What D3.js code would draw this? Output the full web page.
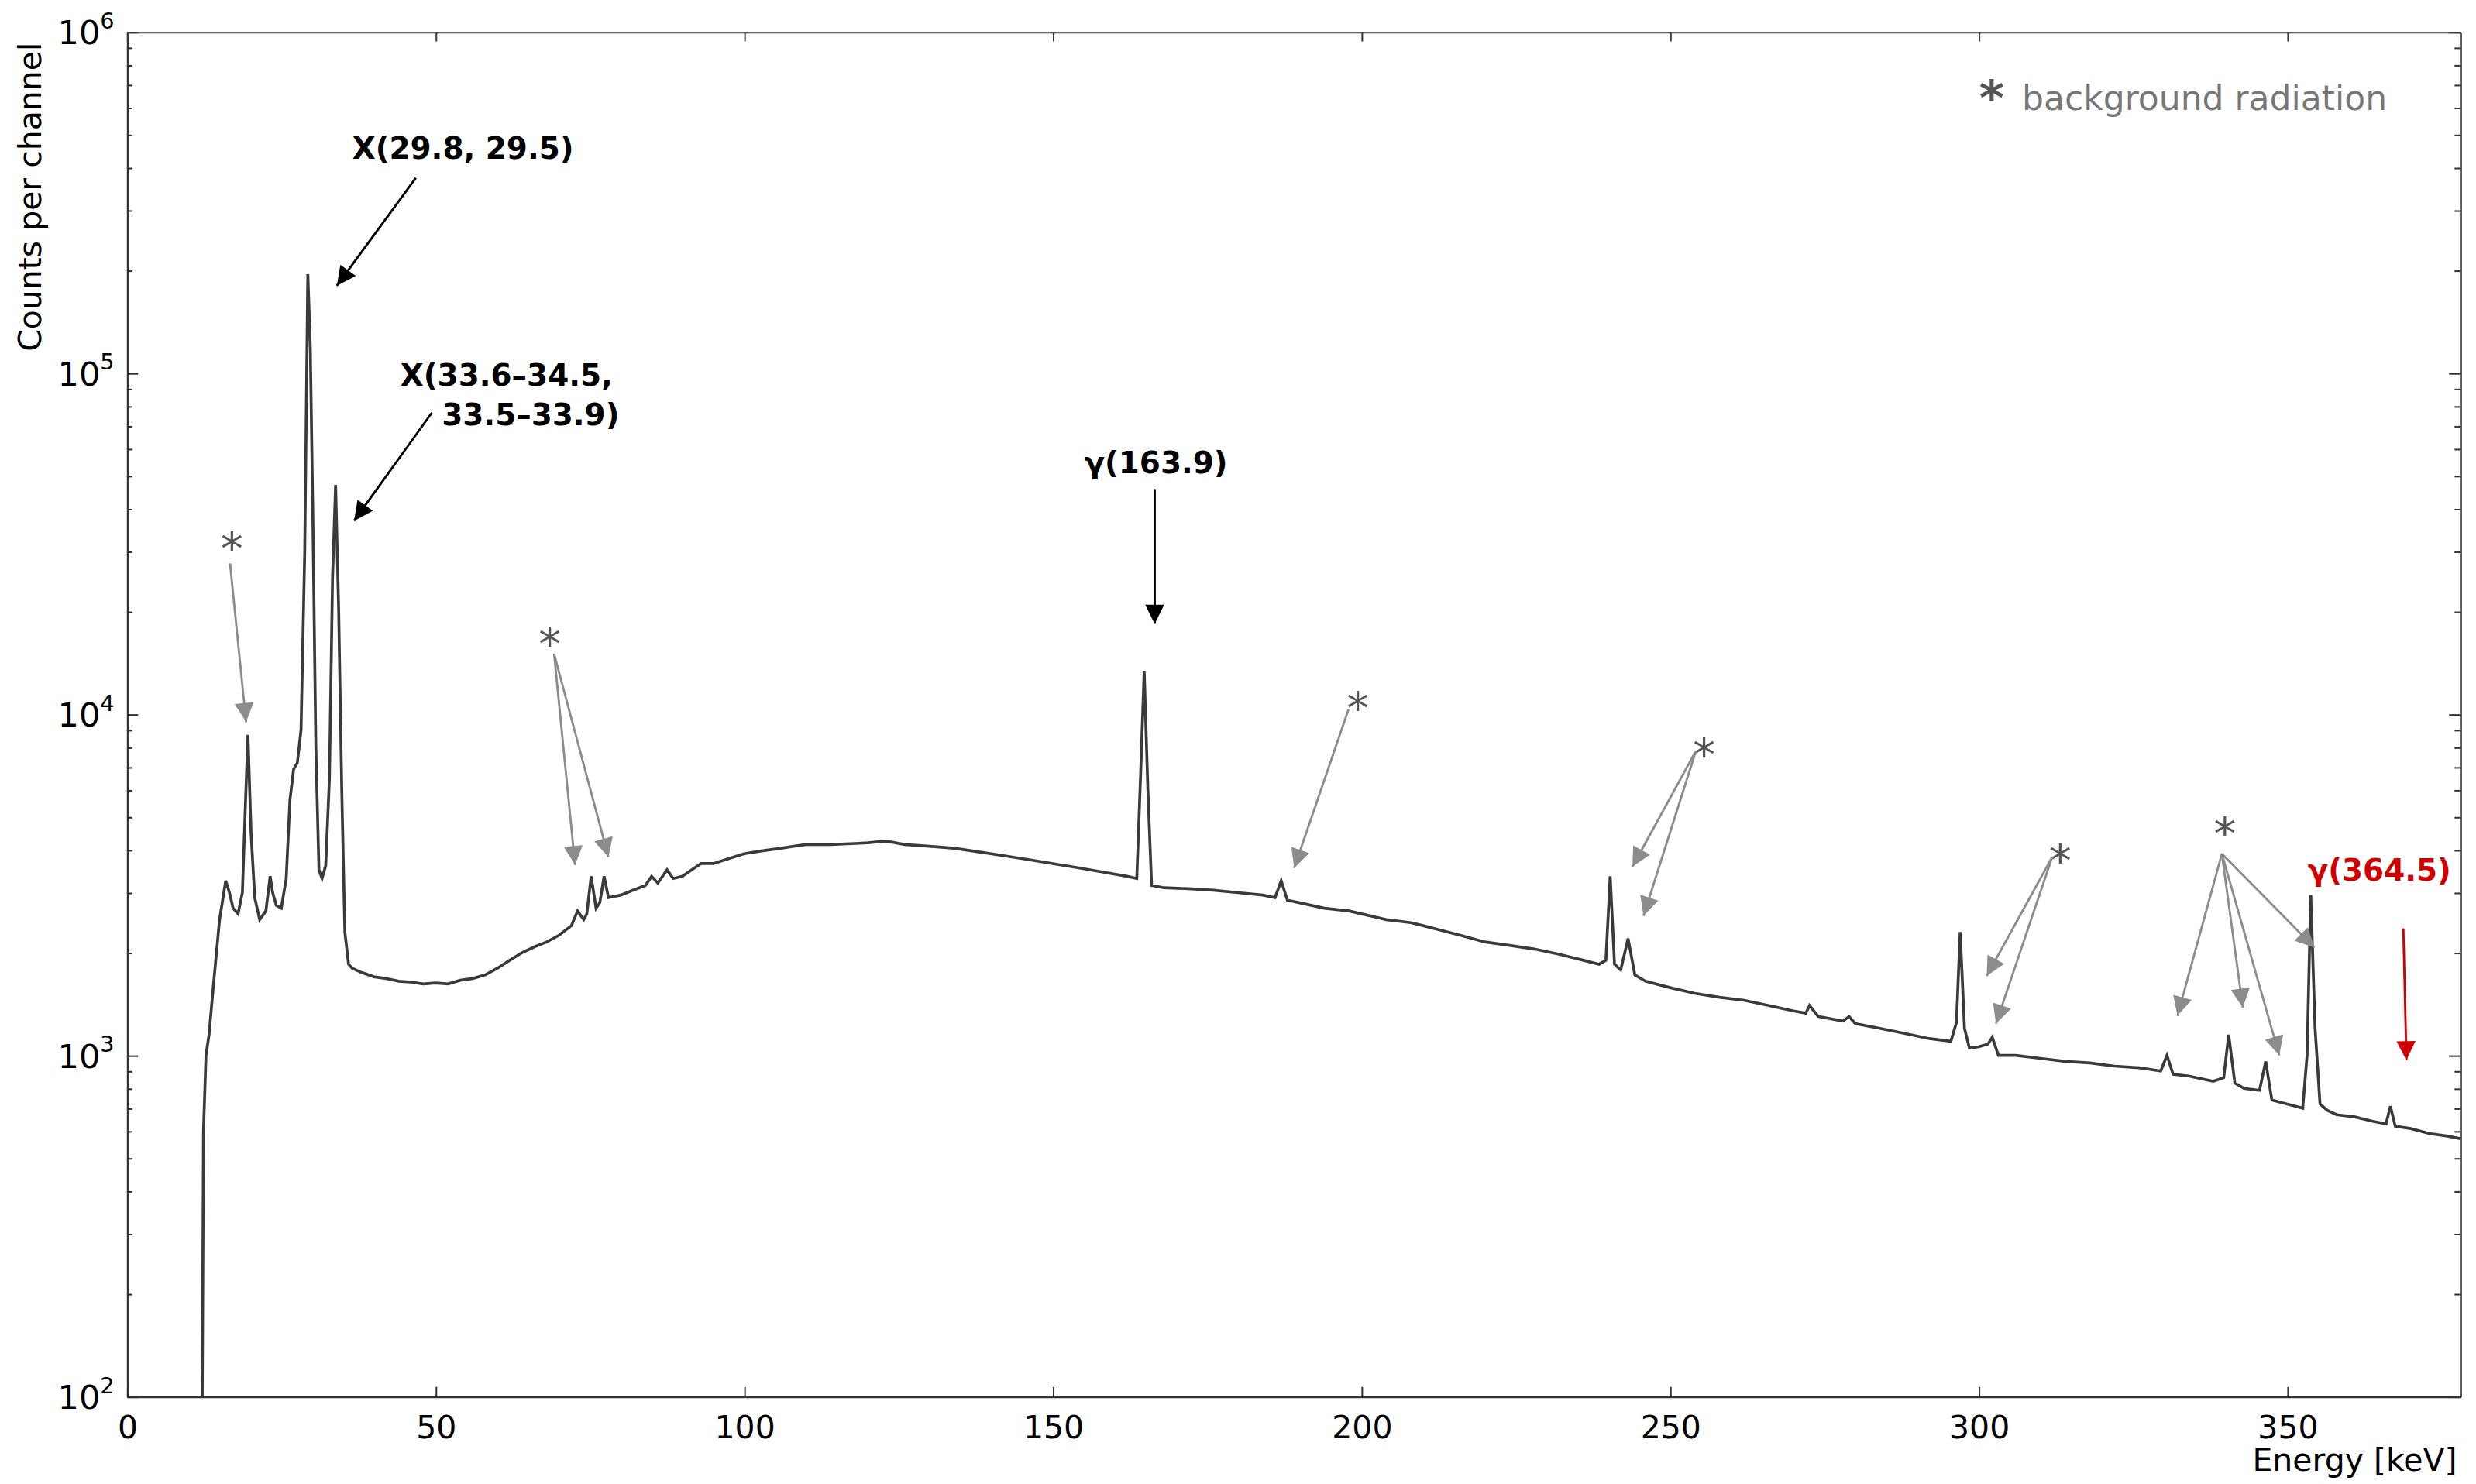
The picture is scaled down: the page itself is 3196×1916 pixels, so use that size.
<!DOCTYPE html>
<html>
<head>
<meta charset="utf-8">
<script src="https://cdn.jsdelivr.net/npm/d3@7"></script>
<style>
  body { margin: 0; background: #fff; }
  text { font-family: "DejaVu Sans", sans-serif; }
</style>
</head>
<body>
<div id="chart"></div>
<script>
const W = 1560, H = 935;
const margin = {left: 80, right: 10, top: 20, bottom: 55};

// spectrum: energy [keV] and counts per channel
const energy = [12.2, 12.4, 12.8, 13.3, 14, 15, 16, 16.6, 17.2, 18, 18.7, 19.2, 19.6, 20.1, 20.7, 21.5, 22.5, 23.2, 23.6, 24.2, 25, 25.8, 26.4, 27, 27.6, 28.2, 28.8, 29.3, 29.7, 30.1, 30.6, 31.1, 31.6, 32.2, 32.8, 33.3, 33.8, 34.3, 34.8, 35.3, 35.9, 36.5, 38, 40, 42, 44, 46, 48, 50, 52, 54, 56, 58, 60, 62, 64, 66, 68, 70, 72, 73, 74, 74.5, 75.2, 76, 76.6, 77.3, 78, 80, 82, 84, 85, 86, 87.5, 88.5, 90, 92, 93, 95, 98, 100, 103, 106, 110, 114, 118, 120, 123, 126, 130, 134, 138, 142, 146, 150, 154, 158, 162, 163.6, 164.2, 164.8, 165.4, 166, 168, 172, 176, 180, 184, 186, 187, 188, 190, 194, 198, 200, 204, 208, 210, 212, 216, 220, 224, 228, 232, 236, 238.5, 239.6, 240.3, 241, 242, 243.2, 244.3, 246, 250, 254, 258, 262, 266, 270, 272, 272.6, 274, 278, 279, 280, 284, 288, 292, 295.5, 296.4, 297, 297.7, 298.5, 300, 301.5, 302.2, 303.2, 306, 310, 314, 318, 322, 326, 329.5, 330.5, 331.5, 334, 338, 339.7, 340.5, 341.5, 343, 345.5, 346.5, 347.5, 350, 352.5, 353.2, 353.8, 354.5, 355.3, 356.5, 358, 361, 364, 366, 366.7, 367.5, 370, 373, 376, 378];
const counts = [100, 600, 1000, 1150, 1600, 2500, 3250, 3000, 2700, 2600, 3000, 5500, 8700, 4500, 2900, 2500, 2650, 3350, 3000, 2750, 2700, 3300, 5600, 6900, 7200, 9000, 30000, 195000, 120000, 40000, 8000, 3500, 3300, 3600, 6500, 25000, 47000, 20000, 6000, 2300, 1850, 1800, 1750, 1700, 1680, 1650, 1640, 1620, 1630, 1620, 1660, 1680, 1720, 1800, 1900, 2000, 2080, 2150, 2250, 2400, 2650, 2500, 2600, 3350, 2700, 2800, 3350, 2900, 2950, 3050, 3150, 3350, 3200, 3500, 3300, 3350, 3550, 3650, 3650, 3800, 3900, 3980, 4050, 4150, 4150, 4180, 4200, 4250, 4150, 4100, 4050, 3950, 3850, 3750, 3650, 3550, 3450, 3350, 3300, 6500, 13400, 6000, 3150, 3100, 3080, 3050, 3000, 2950, 2900, 3250, 2850, 2800, 2700, 2650, 2600, 2500, 2450, 2400, 2350, 2250, 2150, 2100, 2050, 1980, 1900, 1850, 1900, 3350, 1850, 1780, 2200, 1720, 1650, 1580, 1520, 1480, 1450, 1400, 1350, 1330, 1400, 1300, 1260, 1300, 1240, 1200, 1160, 1120, 1100, 1250, 2300, 1200, 1050, 1060, 1080, 1130, 1000, 1000, 980, 960, 950, 930, 920, 900, 1000, 880, 870, 840, 860, 1150, 830, 800, 790, 960, 740, 720, 700, 1000, 2950, 1200, 720, 690, 670, 660, 640, 630, 710, 620, 610, 590, 580, 570];

const xTicks = [0, 50, 100, 150, 200, 250, 300, 350];
const yTicks = [1e2, 1e3, 1e4, 1e5, 1e6];

// labels
const labelText = ["X(29.8, 29.5)", "X(33.6–34.5,", "33.5–33.9)", "γ(163.9)", "γ(364.5)"];
const labelE = [36.5, 44.3, 51.0, 166.7, 353.3];
const labelLog = [5.628, 4.963, 4.847, 4.707, 3.512];
const labelAnchor = ["start", "start", "start", "middle", "start"];
const labelColor = ["#000", "#000", "#000", "#000", "#d00000"];

// arrows
const arrowFromE = [46.8, 49.4, 166.5, 368.8];
const arrowFromLog = [5.572, 4.884, 4.660, 3.372];
const arrowToE = [34.0, 36.8, 166.5, 369.3];
const arrowToLog = [5.256, 4.567, 4.265, 2.986];
const arrowColor = ["#000", "#000", "#000", "#d00000"];

// background markers: asterisk position and arrow targets
const starE = [17.0, 68.5, 199.4, 255.5, 313.2, 339.9];
const starLog = [4.488, 4.209, 4.019, 3.884, 3.572, 3.651];
const starFromE = [16.7, 69.2, 197.9, 254.2, 311.9, 339.4];
const starFromLog = [4.442, 4.177, 4.014, 3.893, 3.581, 3.591];
const starTargets = [
  [[19.3, 3.977]],
  [[72.6, 3.558], [78.0, 3.581]],
  [[189.1, 3.549]],
  [[243.9, 3.553], [245.7, 3.409]],
  [[301.3, 3.233], [302.8, 3.093]],
  [[332.2, 3.116], [342.8, 3.140], [348.7, 3.0], [354.4, 3.316]]
];

const svg = d3.select("#chart").append("svg")
  .attr("width", 3196).attr("height", 1916)
  .attr("viewBox", `0 0 ${W} ${H}`);

const x = d3.scaleLinear().domain([0, 378]).range([margin.left, W - margin.right]);
const y = d3.scaleLog().domain([1e2, 1e6]).range([H - margin.bottom, margin.top]);
const yl = v => y(Math.pow(10, v));

const defs = svg.append("defs");
function marker(id, col) {
  defs.append("marker").attr("id", id)
    .attr("viewBox", "0 0 10 10").attr("refX", 10).attr("refY", 5)
    .attr("markerWidth", 18).attr("markerHeight", 12)
    .attr("markerUnits", "userSpaceOnUse").attr("orient", "auto")
    .append("path").attr("d", "M0,0 L10,5 L0,10 Z").attr("fill", col);
}
marker("hBlack", "#000");
marker("hRed", "#d00000");
marker("hGray", "#8c8c8c");

// axes
const minor = [];
for (let d = 2; d < 6; d++) for (let k = 2; k <= 9; k++) minor.push(k * Math.pow(10, d));

const ax = svg.append("g").attr("class", "axes");
ax.append("g").attr("transform", `translate(0,${H - margin.bottom})`)
  .call(d3.axisBottom(x).tickValues(xTicks).tickSizeInner(-6).tickSizeOuter(0).tickPadding(12))
  .call(g => g.selectAll("text").attr("font-size", 20).attr("fill", "#000"));
ax.append("g").attr("transform", `translate(0,${margin.top})`)
  .call(d3.axisTop(x).tickValues(xTicks).tickSizeInner(-6).tickSizeOuter(0).tickFormat(""));
ax.append("g").attr("transform", `translate(${margin.left},0)`)
  .call(d3.axisLeft(y).tickValues(yTicks).tickSizeInner(-7).tickSizeOuter(0).tickPadding(10).tickFormat(""))
  .call(g => g.selectAll(".tick").append("text")
    .attr("x", -8).attr("dy", "0.35em").attr("text-anchor", "end")
    .attr("font-size", 21).attr("fill", "#000")
    .html(d => `10<tspan dy="-10" font-size="14">${Math.round(Math.log10(d))}</tspan>`));
ax.append("g").attr("transform", `translate(${margin.left},0)`)
  .call(d3.axisLeft(y).tickValues(minor).tickSizeInner(-3.5).tickSizeOuter(0).tickFormat(""));
ax.append("g").attr("transform", `translate(${W - margin.right},0)`)
  .call(d3.axisRight(y).tickValues(yTicks).tickSizeInner(-7).tickSizeOuter(0).tickFormat(""));
ax.append("g").attr("transform", `translate(${W - margin.right},0)`)
  .call(d3.axisRight(y).tickValues(minor).tickSizeInner(-3.5).tickSizeOuter(0).tickFormat(""));
ax.selectAll(".domain, line").attr("stroke", "#333");

ax.append("text").attr("x", W - margin.right - 2).attr("y", H - 8)
  .attr("text-anchor", "end").attr("font-size", 20).text("Energy [keV]");
ax.append("text").attr("transform", `translate(26,${margin.top + 104}) rotate(-90)`)
  .attr("text-anchor", "middle").attr("font-size", 20).text("Counts per channel");

// spectrum
const pts = energy.map((e, i) => [e, counts[i]]);
svg.append("path").datum(pts)
  .attr("fill", "none").attr("stroke", "#3a3a3a").attr("stroke-width", 1.8)
  .attr("d", d3.line().x(d => x(d[0])).y(d => y(d[1])));

// labels and arrows
labelText.forEach((t, i) => {
  svg.append("text").attr("x", x(labelE[i])).attr("y", yl(labelLog[i]))
    .attr("text-anchor", labelAnchor[i]).attr("font-weight", "bold")
    .attr("font-size", 19).attr("fill", labelColor[i]).text(t);
});
arrowFromE.forEach((e, i) => {
  svg.append("line")
    .attr("x1", x(e)).attr("y1", yl(arrowFromLog[i]))
    .attr("x2", x(arrowToE[i])).attr("y2", yl(arrowToLog[i]))
    .attr("stroke", arrowColor[i]).attr("stroke-width", 1.4)
    .attr("marker-end", arrowColor[i] === "#000" ? "url(#hBlack)" : "url(#hRed)");
});
starE.forEach((e, i) => {
  svg.append("text").attr("x", x(e)).attr("y", yl(starLog[i]) + 10)
    .attr("text-anchor", "middle").attr("font-size", 28).attr("fill", "#555").text("*");
  starTargets[i].forEach(tg => {
    svg.append("line")
      .attr("x1", x(starFromE[i])).attr("y1", yl(starFromLog[i]))
      .attr("x2", x(tg[0])).attr("y2", yl(tg[1]))
      .attr("stroke", "#8c8c8c").attr("stroke-width", 1.4)
      .attr("marker-end", "url(#hGray)");
  });
});

// legend
svg.append("text").attr("x", 1247).attr("y", 72).attr("font-size", 30)
  .attr("font-weight", "bold").attr("fill", "#555").text("*");
svg.append("text").attr("x", 1274).attr("y", 69).attr("font-size", 21.5)
  .attr("fill", "#777").text("background radiation");
</script>
</body>
</html>
